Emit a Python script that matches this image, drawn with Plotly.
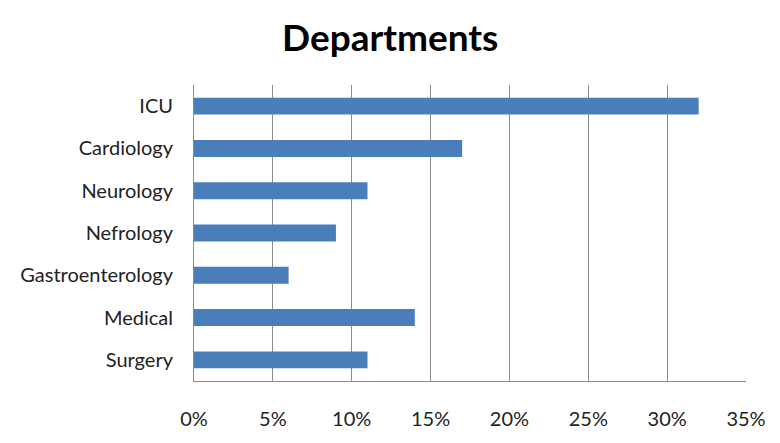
import plotly.graph_objects as go

categories = ["ICU", "Cardiology", "Neurology", "Nefrology", "Gastroenterology", "Medical", "Surgery"]
values = [0.32, 0.17, 0.11, 0.09, 0.06, 0.14, 0.11]
tick_vals = [0, 0.05, 0.10, 0.15, 0.20, 0.25, 0.30, 0.35]

fig = go.Figure(go.Bar(
    x=values, y=categories, orientation="h",
    marker=dict(color="#4a7ebb", line=dict(width=0)),
))
font = "Lato, Carlito, 'Open Sans', sans-serif"
fig.update_layout(
    width=780, height=443,
    margin=dict(l=181, r=42, t=77, b=70),
    paper_bgcolor="white", plot_bgcolor="white",
    bargap=0.6,
    showlegend=False,
    title=dict(text="<b>Departments</b>", x=0.49, xanchor="center", y=0.932, yanchor="middle",
               font=dict(family=font, size=37, color="black")),
    font=dict(family=font, size=20, color="#222"),
)
fig.update_xaxes(
    range=[0, 0.35], tickvals=tick_vals, tickformat=".0%",
    showgrid=True, gridcolor="#8c8c8c", gridwidth=1,
    showline=True, linecolor="#8c8c8c", linewidth=1,
    zeroline=False, ticks="", ticklabelstandoff=20,
)
fig.update_yaxes(
    categoryorder="array", categoryarray=categories[::-1],
    showline=True, linecolor="#8c8c8c", linewidth=1,
    showgrid=False, ticks="", ticklabelstandoff=16,
)
fig.write_html("out.html")
